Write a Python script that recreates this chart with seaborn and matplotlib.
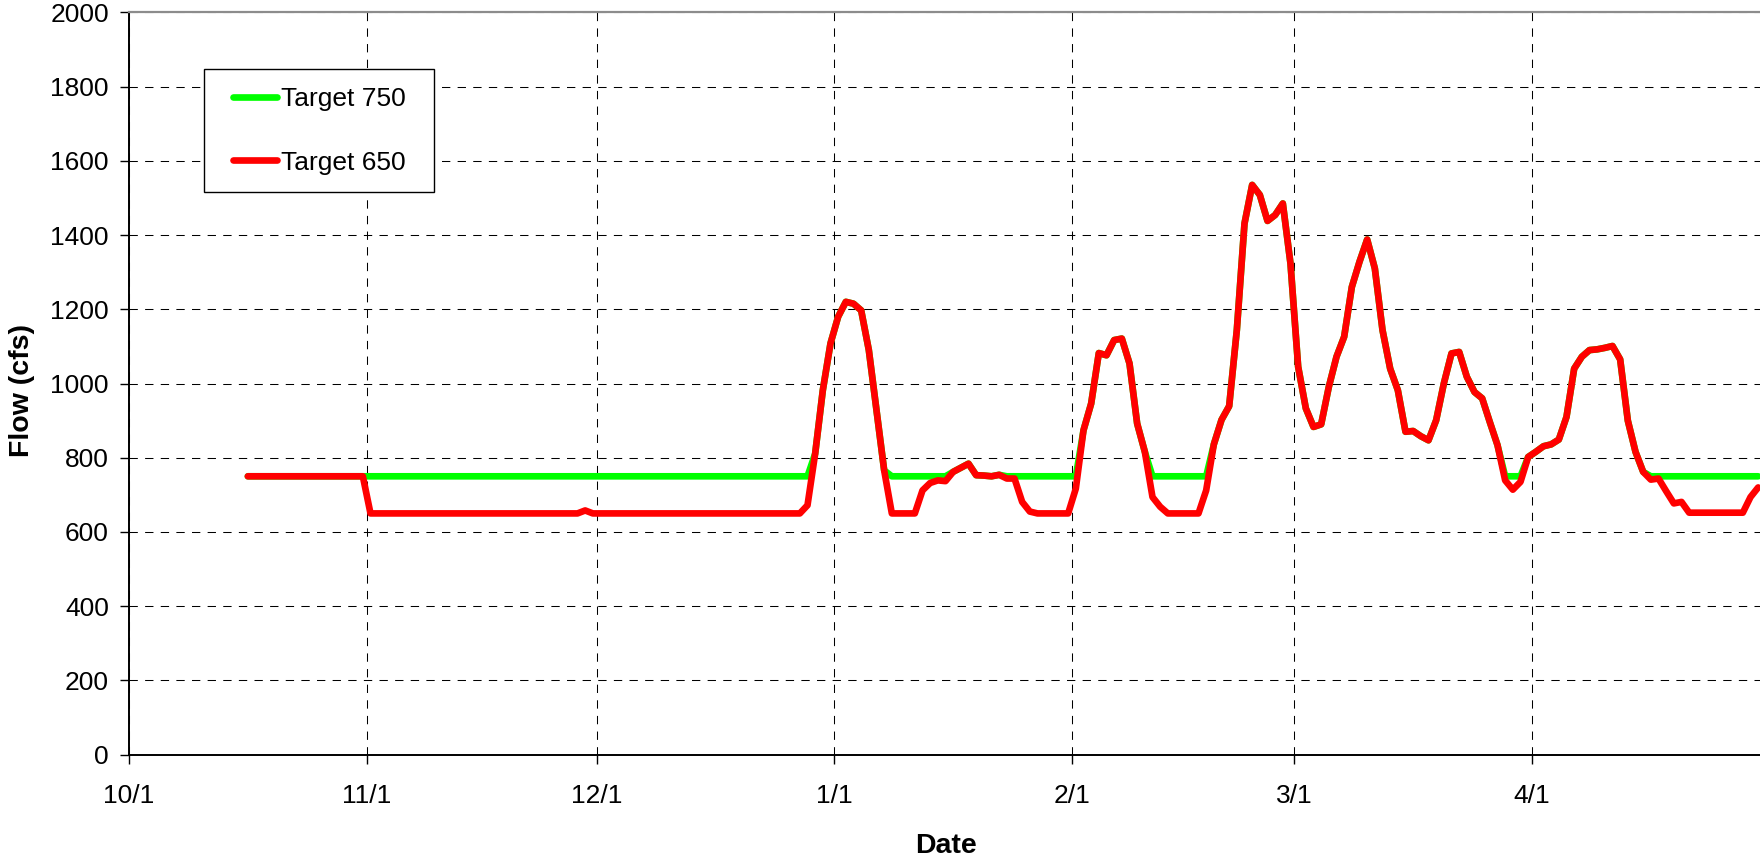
import numpy as np
import pandas as pd
import matplotlib
matplotlib.use("Agg")
import matplotlib.pyplot as plt
from matplotlib.path import Path
import seaborn as sns

# Daily flow (cfs) at the dates where the hydrograph changes slope
dates = [
    "2003-10-16", "2003-10-31", "2003-11-01", "2003-11-28", "2003-11-29", "2003-11-30",
    "2003-12-27", "2003-12-28", "2003-12-29", "2003-12-30", "2003-12-31",
    "2004-01-01", "2004-01-02", "2004-01-03", "2004-01-04", "2004-01-05", "2004-01-06",
    "2004-01-07", "2004-01-08", "2004-01-11", "2004-01-12", "2004-01-13", "2004-01-14",
    "2004-01-15", "2004-01-16", "2004-01-17", "2004-01-18", "2004-01-19", "2004-01-20",
    "2004-01-21", "2004-01-22", "2004-01-23", "2004-01-24", "2004-01-25", "2004-01-26",
    "2004-01-27", "2004-01-31",
    "2004-02-01", "2004-02-02", "2004-02-03", "2004-02-04", "2004-02-05", "2004-02-06",
    "2004-02-07", "2004-02-08", "2004-02-09", "2004-02-10", "2004-02-11", "2004-02-12",
    "2004-02-13", "2004-02-17", "2004-02-18", "2004-02-19", "2004-02-20", "2004-02-21",
    "2004-02-22", "2004-02-23", "2004-02-24", "2004-02-25", "2004-02-26", "2004-02-27",
    "2004-02-28", "2004-02-29",
    "2004-03-01", "2004-03-02", "2004-03-03", "2004-03-04", "2004-03-05", "2004-03-06",
    "2004-03-07", "2004-03-08", "2004-03-09", "2004-03-10", "2004-03-11", "2004-03-12",
    "2004-03-13", "2004-03-14", "2004-03-15", "2004-03-16", "2004-03-17", "2004-03-18",
    "2004-03-19", "2004-03-20", "2004-03-21", "2004-03-22", "2004-03-23", "2004-03-24",
    "2004-03-25", "2004-03-26", "2004-03-27", "2004-03-28", "2004-03-29", "2004-03-30",
    "2004-03-31",
    "2004-04-01", "2004-04-02", "2004-04-03", "2004-04-04", "2004-04-05", "2004-04-06",
    "2004-04-07", "2004-04-08", "2004-04-09", "2004-04-10", "2004-04-11", "2004-04-12",
    "2004-04-13", "2004-04-14", "2004-04-15", "2004-04-16", "2004-04-17", "2004-04-18",
    "2004-04-19", "2004-04-20", "2004-04-21", "2004-04-28", "2004-04-29", "2004-04-30",
]

target_650 = [
    750, 750, 650, 650, 658, 650,
    650, 672, 811, 982, 1108,
    1180, 1220, 1215, 1197, 1090, 928,
    766, 650, 650, 712, 732, 739,
    737, 762, 773, 784, 753, 752,
    750, 754, 744, 744, 681, 655,
    650, 650,
    717, 874, 946, 1082, 1076, 1117,
    1121, 1054, 892, 816, 694, 668,
    650, 650, 712, 836, 902, 939,
    1144, 1431, 1535, 1508, 1438, 1454,
    1485, 1323,
    1045, 933, 883, 890, 991, 1072,
    1126, 1260, 1328, 1388, 1310, 1144,
    1040, 982, 870, 872, 858, 847,
    901, 1000, 1081, 1085, 1018, 977,
    960, 896, 834, 739, 714, 735,
    802,
    816, 831, 836, 849, 910, 1040,
    1072, 1090, 1092, 1096, 1101, 1065,
    900, 816, 762, 741, 744, 710,
    677, 681, 652, 652, 694, 720,
]

target_750 = [
    750, 750, 750, 750, 750, 750,
    750, 750, 811, 982, 1108,
    1180, 1220, 1215, 1197, 1090, 928,
    766, 750, 750, 750, 750, 750,
    750, 762, 773, 784, 753, 752,
    750, 754, 750, 750, 750, 750,
    750, 750,
    750, 874, 946, 1082, 1076, 1117,
    1121, 1054, 892, 816, 750, 750,
    750, 750, 750, 836, 902, 939,
    1144, 1431, 1535, 1508, 1438, 1454,
    1485, 1323,
    1045, 933, 883, 890, 991, 1072,
    1126, 1260, 1328, 1388, 1310, 1144,
    1040, 982, 870, 872, 858, 847,
    901, 1000, 1081, 1085, 1018, 977,
    960, 896, 834, 750, 750, 750,
    802,
    816, 831, 836, 849, 910, 1040,
    1072, 1090, 1092, 1096, 1101, 1065,
    900, 816, 762, 750, 750, 750,
    750, 750, 750, 750, 750, 750,
]

series_names = ["Target 750", "Target 650"]
series_colors = ["#00ff00", "#ff0000"]

month_ticks = ["2003-10-01", "2003-11-01", "2003-12-01", "2004-01-01",
               "2004-02-01", "2004-03-01", "2004-04-01"]
month_labels = ["10/1", "11/1", "12/1", "1/1", "2/1", "3/1", "4/1"]
y_ticks = list(range(0, 2001, 200))

sns.set_style("white")
plt.rcParams["font.family"] = ["Liberation Sans", "DejaVu Sans"]
plt.rcParams["text.color"] = "black"
plt.rcParams["axes.labelcolor"] = "black"

day = pd.to_datetime(dates)
df = pd.concat([
    pd.DataFrame({"Date": day, "Flow": target_750, "Series": series_names[0]}),
    pd.DataFrame({"Date": day, "Flow": target_650, "Series": series_names[1]}),
], ignore_index=True)
# each daily value sits in the middle of its day slot
df["Date"] = df["Date"] + pd.Timedelta(hours=12)

fig = plt.figure(figsize=(17.6, 8.58), dpi=100)
ax = fig.add_axes([129 / 1760, 103.3 / 858, 1633 / 1760, 742.4 / 858])

sns.lineplot(data=df, x="Date", y="Flow", hue="Series", hue_order=series_names,
             palette=dict(zip(series_names, series_colors)), estimator=None,
             linewidth=4.8, solid_capstyle="round", solid_joinstyle="round",
             ax=ax, legend=False)

ax.set_xlim(pd.Timestamp("2003-10-01"), pd.Timestamp("2004-05-01"))
ax.set_ylim(0, 2000)
ax.set_xticks(pd.to_datetime(month_ticks))
ax.set_xticklabels(month_labels)
ax.set_yticks(y_ticks)

ax.grid(True, which="major", color="black", linestyle=(0, (8, 7)), linewidth=0.75)
ax.set_axisbelow(True)

for side in ["left", "bottom"]:
    ax.spines[side].set_color("black")
    ax.spines[side].set_linewidth(1.4)
ax.spines["top"].set_color("#8c8c8c")
ax.spines["top"].set_linewidth(1.6)
ax.spines["right"].set_visible(False)

ax.tick_params(axis="both", which="major", direction="out", length=6.5, width=1,
               color="black", labelsize=19, labelcolor="black")
ax.tick_params(axis="x", pad=14.5)
ax.tick_params(axis="y", pad=8)
ax.tick_params(left=True, bottom=True)

ax.set_xlabel("Date", fontsize=20.5, fontweight="bold")
ax.set_ylabel("Flow (cfs)", fontsize=20.5, fontweight="bold")
ax.xaxis.set_label_coords(0.5, -0.105)
ax.yaxis.set_label_coords(-0.0576, 0.491)

handles = [plt.Line2D([], [], color=c, linewidth=4.8, solid_capstyle="round")
           for c in series_colors]
leg = ax.legend(handles, series_names, loc="upper left",
                bbox_to_anchor=(0.0527, 0.9236), borderaxespad=0,
                fontsize=19, frameon=True, fancybox=False, shadow=False,
                borderpad=0.68, labelspacing=1.5, handlelength=1.65,
                handletextpad=0.15)
frame = leg.get_frame()
frame.set_edgecolor("black")
frame.set_linewidth(1.0)
frame.set_facecolor("white")
frame.set_alpha(1)


def wide_square(x0, y0, width, height, mutation_scale):
    # extra horizontal room inside the legend frame
    p = 11
    x1, y1 = x0 + width, y0 + height
    return Path([(x0 - p, y0), (x1 + p, y0), (x1 + p, y1), (x0 - p, y1), (x0 - p, y0)],
                closed=True)


frame.set_boxstyle(wide_square)

fig.savefig("out.png", dpi=100)
